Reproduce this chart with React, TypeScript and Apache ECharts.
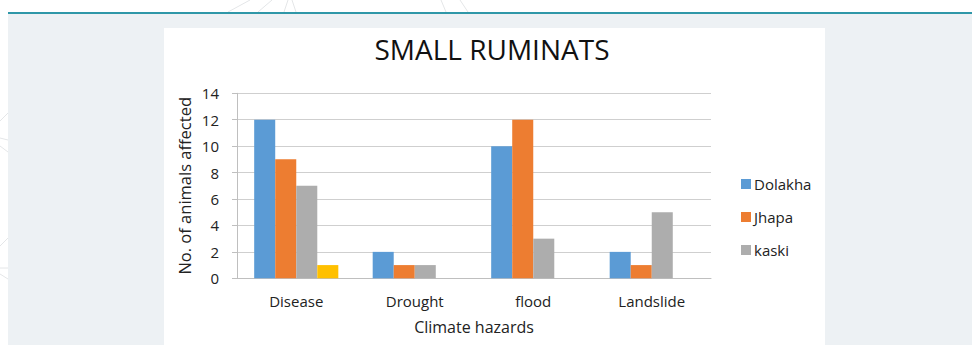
import React, { useEffect, useRef } from "react";
import * as echarts from "echarts";

const categories = ["Disease", "Drought", "flood", "Landslide"];
const dolakha = [12, 2, 10, 2];
const jhapa = [9, 1, 12, 1];
const kaski = [7, 1, 3, 5];
const series4 = [1, null, null, null];
const yTicks = { min: 0, max: 14, interval: 2 };

const FONT = "'Open Sans', 'Noto Sans', sans-serif";

export default function App() {
  const ref = useRef<HTMLDivElement>(null);
  useEffect(() => {
    if (!ref.current) return;
    const chart = echarts.init(ref.current, undefined, { renderer: "svg" });
    const deco = "#e4e6e8";
    const decoLines = [
      [228, 12, 250, 0],
      [258, 12, 272, 0],
      [284, 12, 288, 0],
      [296, 12, 292, 0],
      [446, 12, 441, 0],
      [468, 12, 460, 0],
      [0, 121, 8, 113],
      [0, 138, 8, 140],
      [0, 146, 8, 152],
      [0, 246, 8, 238],
      [0, 268, 8, 268],
      [0, 274, 8, 279],
    ];
    chart.setOption({
      animation: false,
      backgroundColor: "#ffffff",
      textStyle: { fontFamily: FONT },
      graphic: [
        ...decoLines.map((l) => ({
          type: "line",
          z: -20,
          shape: { x1: l[0], y1: l[1], x2: l[2], y2: l[3] },
          style: { stroke: deco, lineWidth: 1 },
          silent: true,
        })),
        {
          type: "rect",
          z: -15,
          shape: { x: 8, y: 12, width: 964, height: 2 },
          style: { fill: "#2f97a8" },
          silent: true,
        },
        {
          type: "rect",
          z: -15,
          shape: { x: 8, y: 14, width: 964, height: 331 },
          style: { fill: "#edf1f4" },
          silent: true,
        },
        {
          type: "rect",
          z: -14,
          shape: { x: 164, y: 28, width: 661, height: 317 },
          style: { fill: "#ffffff" },
          silent: true,
        },
        {
          type: "text",
          z: 10,
          x: 492,
          y: 49,
          style: {
            text: "SMALL RUMINATS",
            fill: "#111111",
            font: `28px ${FONT}`,
            textAlign: "center",
            textVerticalAlign: "middle",
          },
          silent: true,
        },
      ],
      legend: {
        data: ["Dolakha", "Jhapa", "kaski"],
        orient: "vertical",
        left: 736,
        top: 171.5,
        itemWidth: 10,
        itemHeight: 10,
        itemGap: 18,
        icon: "rect",
        textStyle: { fontSize: 15, color: "#222222", fontFamily: FONT, padding: [0, 0, 0, -2] },
      },
      grid: { left: 237, right: 261, top: 93.3, bottom: 66.7, containLabel: false },
      xAxis: {
        type: "category",
        data: categories,
        name: "Climate hazards",
        nameLocation: "middle",
        nameGap: 41,
        nameTextStyle: { fontSize: 16, color: "#222222", fontFamily: FONT },
        axisLine: { lineStyle: { color: "#bfbfbf", width: 1 } },
        axisTick: { show: false },
        axisLabel: { fontSize: 15, color: "#222222", margin: 15, fontFamily: FONT },
      },
      yAxis: {
        type: "value",
        min: yTicks.min,
        max: yTicks.max,
        interval: yTicks.interval,
        name: "No. of animals affected",
        nameLocation: "middle",
        nameRotate: 90,
        nameGap: 44,
        nameTextStyle: { fontSize: 16.5, color: "#222222", fontFamily: FONT },
        axisLine: { show: true, lineStyle: { color: "#bfbfbf", width: 1 } },
        axisTick: { show: true, inside: false, length: 5, lineStyle: { color: "#bfbfbf" } },
        axisLabel: { fontSize: 15, color: "#222222", margin: 18, fontFamily: FONT },
        splitLine: { show: true, lineStyle: { color: "#cfcfcf", width: 1 } },
      },
      series: [
        { name: "Dolakha", type: "bar", data: dolakha, itemStyle: { color: "#5b9bd5" }, barGap: "0%", barCategoryGap: "29%" },
        { name: "Jhapa", type: "bar", data: jhapa, itemStyle: { color: "#ed7d31" } },
        { name: "kaski", type: "bar", data: kaski, itemStyle: { color: "#adadad" } },
        { name: "Series4", type: "bar", data: series4, itemStyle: { color: "#ffc000" } },
      ],
    });
    return () => chart.dispose();
  }, []);
  return (
    <div
      ref={ref}
      style={{ position: "fixed", left: 0, top: 0, width: 972, height: 345 }}
    />
  );
}
